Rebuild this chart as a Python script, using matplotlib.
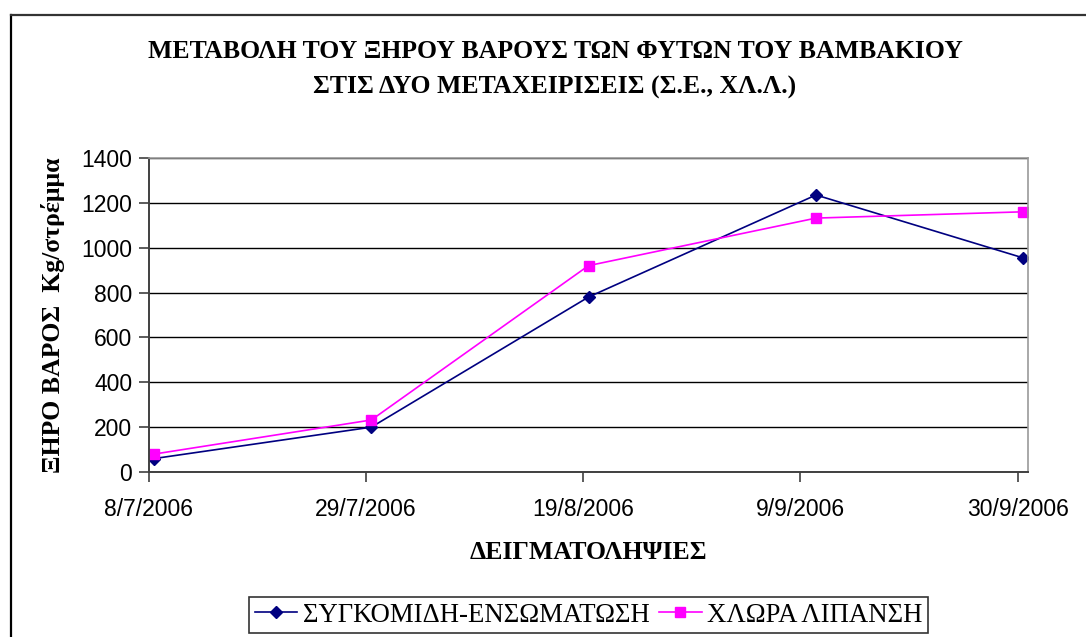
import matplotlib
matplotlib.use("Agg")
import matplotlib.pyplot as plt
import pandas as pd
from matplotlib.lines import Line2D

# sampling dates and dry weight (kg/stremma)
sample_dates = ["8/7/2006", "29/7/2006", "19/8/2006", "10/9/2006", "30/9/2006"]
harvest_incorp = [60, 200, 780, 1235, 955]
green_manure = [80, 232, 920, 1132, 1160]
tick_dates = ["8/7/2006", "29/7/2006", "19/8/2006", "9/9/2006", "30/9/2006"]
axis_end = "1/10/2006"

series_names = ["ΣΥΓΚΟΜΙΔΗ-ΕΝΣΩΜΑΤΩΣΗ", "ΧΛΩΡΑ ΛΙΠΑΝΣΗ"]
title = "ΜΕΤΑΒΟΛΗ ΤΟΥ ΞΗΡΟΥ ΒΑΡΟΥΣ ΤΩΝ ΦΥΤΩΝ ΤΟΥ ΒΑΜΒΑΚΙΟΥ\nΣΤΙΣ ΔΥΟ ΜΕΤΑΧΕΙΡΙΣΕΙΣ (Σ.Ε., ΧΛ.Λ.)"
ylabel = "ΞΗΡΟ ΒΑΡΟΣ  Kg/στρέμμα"
xlabel = "ΔΕΙΓΜΑΤΟΛΗΨΙΕΣ"

serif = "Liberation Serif"
sans = "Liberation Sans"

dates = pd.to_datetime(sample_dates, dayfirst=True) + pd.Timedelta(hours=12)
ticks = pd.to_datetime(tick_dates, dayfirst=True)

fig = plt.figure(figsize=(10.86, 6.37), dpi=100)
ax = fig.add_axes([0.1372, 0.259, 0.8094, 0.493])

ax.plot(dates, harvest_incorp, color="#000080", marker="D", markersize=6.5,
        linewidth=1.2, label=series_names[0])
ax.plot(dates, green_manure, color="#FF00FF", marker="s", markersize=7.5,
        linewidth=1.2, label=series_names[1])

ax.set_xlim(ticks[0], pd.to_datetime(axis_end, dayfirst=True))
ax.set_ylim(0, 1400)
ax.set_yticks(range(0, 1401, 200))
ax.set_xticks(ticks)
ax.set_xticklabels([f"{d.day}/{d.month}/{d.year}" for d in ticks])

ax.grid(axis="y", color="black", linewidth=1)
ax.set_axisbelow(True)
for side in ["top", "right"]:
    ax.spines[side].set_color("#999999")
    ax.spines[side].set_linewidth(1.2)
for side in ["left", "bottom"]:
    ax.spines[side].set_color("#404040")
    ax.spines[side].set_linewidth(1.4)
ax.tick_params(axis="y", direction="out", length=7, width=1.2, color="#404040",
               labelsize=16.5, pad=5)
ax.tick_params(axis="x", direction="out", length=7, width=1.2, color="#404040",
               labelsize=16.5, pad=12)
for lbl in ax.get_xticklabels() + ax.get_yticklabels():
    lbl.set_family(sans)

ax.set_ylabel(ylabel, family=serif, fontweight="bold", fontsize=18.5, labelpad=12)
ax.set_xlabel(xlabel, family=serif, fontweight="bold", fontsize=18.5, labelpad=14)

fig.text(0.511, 0.891, title, ha="center", va="center", family=serif,
         fontweight="bold", fontsize=18.5, linespacing=1.7)

leg = fig.legend(loc="center", bbox_to_anchor=(0.542, 0.034), ncol=2,
                 prop={"family": serif, "size": 19.3}, frameon=True, fancybox=False,
                 edgecolor="black", numpoints=1, handlelength=1.6,
                 columnspacing=0.35, handletextpad=0.2, borderpad=0.2,
                 borderaxespad=0)
leg.get_frame().set_linewidth(1.2)

# outer chart border (left and top visible)
fig.add_artist(Line2D([0.0103, 0.0103], [0, 0.977], color="black", linewidth=1.6,
                      transform=fig.transFigure))
fig.add_artist(Line2D([0.0103, 1], [0.977, 0.977], color="#333333", linewidth=1.6,
                      transform=fig.transFigure))

fig.savefig("out.png", dpi=100)
